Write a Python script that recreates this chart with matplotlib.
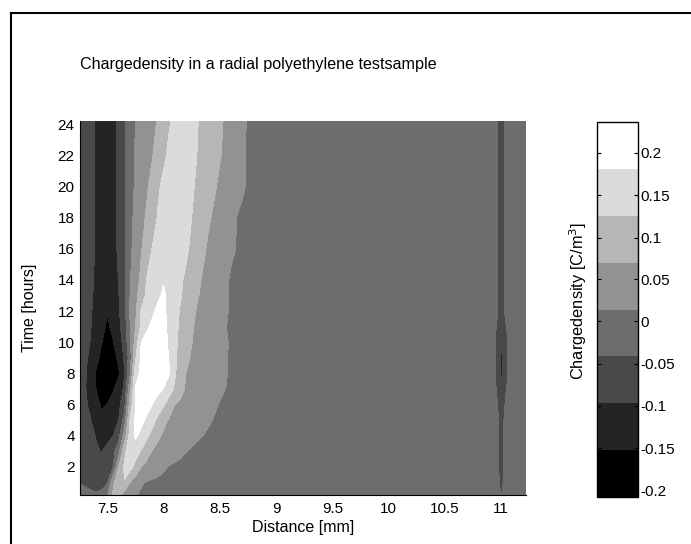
import numpy as np
import matplotlib.pyplot as plt
from matplotlib.colors import ListedColormap
from matplotlib.lines import Line2D

plt.rcParams['font.family'] = ['Liberation Sans', 'DejaVu Sans']
plt.rcParams['axes.unicode_minus'] = False

distance_mm = [7.26, 7.30, 7.35, 7.40, 7.45, 7.50, 7.55, 7.60, 7.65, 7.70, 7.75,
               7.80, 7.85, 7.90, 7.95, 8.00, 8.05, 8.10, 8.15, 8.20, 8.30, 8.40,
               8.50, 8.60, 8.70, 8.80,
               9.00, 10.90, 10.96, 11.00, 11.04, 11.10, 11.22]
time_hours = [0.2, 1, 2, 3, 4, 5, 6, 7, 8, 9, 10, 11, 12, 13, 14, 16, 18, 20, 22, 24.2]

# Charge density [C/m^3], inner electrode side (7.26 - 8.80 mm), one row per time
rho_inner = [
    [-0.03, -0.033, -0.036, -0.038, -0.035, 0.01, 0.075, 0.08, 0.05, 0.03, 0.016, 0.008, 0.003, 0, 0, 0, 0, 0, 0, 0, 0, 0, 0, 0, 0, 0],
    [-0.042, -0.045, -0.048, -0.05, -0.05, -0.045, 0.059, 0.103, 0.125, 0.07, 0.043, 0.019, 0.01, 0.006, 0.003, 0, 0, 0, 0, 0, 0, 0, 0, 0, 0, 0],
    [-0.055, -0.06, -0.066, -0.07, -0.068, -0.06, -0.045, 0.07, 0.13, 0.148, 0.109, 0.069, 0.056, 0.045, 0.033, 0.021, 0.011, 0.006, 0.003, 0.002, 0, 0, 0, 0, 0, 0],
    [-0.06, -0.068, -0.08, -0.092, -0.099, -0.078, -0.058, -0.008, 0.106, 0.17, 0.154, 0.122, 0.089, 0.067, 0.058, 0.05, 0.041, 0.033, 0.024, 0.015, 0.006, 0.003, 0.002, 0, 0, 0],
    [-0.065, -0.072, -0.086, -0.099, -0.117, -0.117, -0.098, -0.061, 0.036, 0.144, 0.19, 0.165, 0.137, 0.109, 0.077, 0.064, 0.056, 0.049, 0.041, 0.033, 0.018, 0.01, 0.006, 0.003, 0.001, 0],
    [-0.07, -0.082, -0.095, -0.115, -0.138, -0.141, -0.116, -0.097, -0.023, 0.126, 0.188, 0.197, 0.171, 0.144, 0.114, 0.08, 0.065, 0.058, 0.051, 0.044, 0.031, 0.017, 0.008, 0.004, 0.002, 0],
    [-0.07, -0.088, -0.107, -0.134, -0.16, -0.151, -0.131, -0.111, -0.066, 0.089, 0.183, 0.201, 0.2, 0.18, 0.156, 0.132, 0.1, 0.069, 0.062, 0.055, 0.04, 0.026, 0.012, 0.005, 0.002, 0],
    [-0.07, -0.092, -0.116, -0.152, -0.176, -0.186, -0.158, -0.127, -0.09, 0.051, 0.185, 0.203, 0.217, 0.215, 0.196, 0.179, 0.149, 0.118, 0.084, 0.065, 0.05, 0.035, 0.02, 0.008, 0.003, 0],
    [-0.07, -0.09, -0.121, -0.157, -0.18, -0.195, -0.185, -0.16, -0.1, 0.0, 0.16, 0.192, 0.208, 0.222, 0.215, 0.2, 0.183, 0.132, 0.098, 0.069, 0.054, 0.038, 0.023, 0.01, 0.004, 0],
    [-0.065, -0.085, -0.109, -0.138, -0.165, -0.19, -0.175, -0.139, -0.093, -0.017, 0.12, 0.188, 0.203, 0.217, 0.21, 0.194, 0.179, 0.136, 0.105, 0.077, 0.056, 0.04, 0.024, 0.01, 0.004, 0],
    [-0.06, -0.075, -0.099, -0.125, -0.15, -0.184, -0.156, -0.122, -0.081, -0.002, 0.092, 0.18, 0.195, 0.209, 0.211, 0.195, 0.175, 0.139, 0.109, 0.084, 0.058, 0.041, 0.025, 0.01, 0.004, 0],
    [-0.06, -0.072, -0.094, -0.116, -0.137, -0.16, -0.141, -0.111, -0.07, 0.007, 0.07, 0.134, 0.173, 0.191, 0.205, 0.191, 0.172, 0.142, 0.115, 0.091, 0.06, 0.042, 0.02, 0.01, 0.004, 0],
    [-0.06, -0.07, -0.093, -0.108, -0.135, -0.15, -0.135, -0.105, -0.063, 0.019, 0.058, 0.128, 0.151, 0.173, 0.193, 0.19, 0.168, 0.144, 0.121, 0.101, 0.065, 0.045, 0.026, 0.01, 0.004, 0],
    [-0.06, -0.07, -0.092, -0.104, -0.128, -0.142, -0.128, -0.1, -0.059, 0.012, 0.052, 0.098, 0.137, 0.154, 0.171, 0.19, 0.165, 0.148, 0.13, 0.111, 0.073, 0.05, 0.028, 0.01, 0.004, 0],
    [-0.06, -0.07, -0.09, -0.102, -0.125, -0.138, -0.122, -0.096, -0.057, 0.009, 0.046, 0.081, 0.128, 0.146, 0.165, 0.176, 0.16, 0.147, 0.133, 0.117, 0.079, 0.052, 0.029, 0.01, 0.004, 0],
    [-0.06, -0.07, -0.09, -0.10, -0.123, -0.135, -0.113, -0.09, -0.049, 0.0, 0.037, 0.065, 0.099, 0.128, 0.141, 0.155, 0.169, 0.167, 0.153, 0.135, 0.097, 0.062, 0.04, 0.019, 0.007, 0],
    [-0.06, -0.07, -0.088, -0.10, -0.122, -0.134, -0.112, -0.088, -0.049, -0.005, 0.029, 0.051, 0.077, 0.105, 0.13, 0.143, 0.156, 0.168, 0.155, 0.141, 0.111, 0.076, 0.048, 0.02, 0.007, 0],
    [-0.06, -0.07, -0.087, -0.10, -0.121, -0.133, -0.112, -0.088, -0.05, -0.011, 0.022, 0.041, 0.063, 0.088, 0.119, 0.136, 0.148, 0.161, 0.162, 0.145, 0.119, 0.089, 0.062, 0.041, 0.019, 0],
    [-0.06, -0.07, -0.086, -0.10, -0.121, -0.133, -0.111, -0.086, -0.05, -0.014, 0.018, 0.034, 0.051, 0.067, 0.092, 0.118, 0.1345, 0.147, 0.159, 0.149, 0.125, 0.099, 0.073, 0.047, 0.02, 0],
    [-0.06, -0.07, -0.085, -0.10, -0.12, -0.133, -0.111, -0.086, -0.048, -0.015, 0.015, 0.029, 0.044, 0.058, 0.074, 0.098, 0.122, 0.137, 0.151, 0.155, 0.128, 0.103, 0.078, 0.05, 0.021, 0],
]

# Charge density [C/m^3], outer electrode side (9.00 - 11.22 mm)
rho_outer = [
    [0, 0, -0.01, -0.045, -0.01, 0, 0],
    [0, 0, -0.02, -0.055, -0.02, 0, 0],
    [0, 0, -0.025, -0.065, -0.025, 0, 0],
    [0, 0, -0.025, -0.065, -0.025, 0, 0],
    [0, 0, -0.025, -0.065, -0.025, 0, 0],
    [0, 0, -0.025, -0.065, -0.025, 0, 0],
    [0, 0, -0.035, -0.07, -0.035, 0, 0],
    [0, 0, -0.045, -0.09, -0.045, -0.01, 0],
    [0, 0, -0.05, -0.11, -0.05, -0.02, 0],
    [0, 0, -0.05, -0.11, -0.05, -0.02, 0],
    [0, 0, -0.05, -0.10, -0.05, -0.02, 0],
    [0, 0, -0.045, -0.08, -0.045, -0.01, 0],
    [0, 0, -0.03, -0.07, -0.03, 0, 0],
    [0, 0, -0.03, -0.07, -0.03, 0, 0],
    [0, 0, -0.035, -0.07, -0.035, 0, 0],
    [0, 0, -0.035, -0.07, -0.035, 0, 0],
    [0, 0, -0.035, -0.07, -0.035, 0, 0],
    [0, 0, -0.035, -0.07, -0.035, 0, 0],
    [0, 0, -0.035, -0.07, -0.035, 0, 0],
    [0, 0, -0.035, -0.07, -0.035, 0, 0],
]

# Contour levels as shown on the colorbar
levels = [-0.208, -0.152, -0.097, -0.041, 0.014, 0.070, 0.126, 0.181, 0.237]
cbar_ticks = [-0.2, -0.15, -0.1, -0.05, 0, 0.05, 0.1, 0.15, 0.2]
cbar_labels = ['-0.2', '-0.15', '-0.1', '-0.05', '0', '0.05', '0.1', '0.15', '0.2']
x_ticks = [7.5, 8, 8.5, 9, 9.5, 10, 10.5, 11]
x_labels = ['7.5', '8', '8.5', '9', '9.5', '10', '10.5', '11']
y_ticks = [2, 4, 6, 8, 10, 12, 14, 16, 18, 20, 22, 24]

rho = np.hstack([np.array(rho_inner), np.array(rho_outer)])

fig = plt.figure(figsize=(6.91, 5.44), dpi=100)

# MATLAB gray(8) colormap
gray8 = ListedColormap([(k / 7, k / 7, k / 7) for k in range(8)])

ax = fig.add_axes([0.1162, 0.0901, 0.645, 0.6875])
cs = ax.contourf(distance_mm, time_hours, rho, levels=levels, cmap=gray8)
ax.set_xlim(7.26, 11.22)
ax.set_ylim(0.2, 24.2)
ax.set_xticks(x_ticks)
ax.set_xticklabels(x_labels)
ax.set_yticks(y_ticks)
ax.tick_params(axis='both', length=0, labelsize=11)
ax.tick_params(axis='x', pad=5)
ax.tick_params(axis='y', pad=4)
ax.spines['top'].set_visible(False)
ax.spines['right'].set_visible(False)
ax.set_xlabel('Distance [mm]', fontsize=11.5)
ax.set_ylabel('Time [hours]', fontsize=11.5)
ax.xaxis.set_label_coords(0.5, -0.066)
ax.yaxis.set_label_coords(-0.097, 0.5)

# Colorbar
cax = fig.add_axes([0.8635, 0.0864, 0.0598, 0.6893])
cbar = fig.colorbar(cs, cax=cax)
cbar.set_ticks(cbar_ticks)
cbar.set_ticklabels(cbar_labels)
cbar.outline.set_linewidth(1)
cax.tick_params(which='both', direction='in', left=True, right=True, length=3,
                labelsize=11, pad=2)
cax.minorticks_off()
cbar.set_label('Chargedensity [C/m$^3$]', fontsize=11.8)
cax.yaxis.set_label_position('left')
cax.yaxis.set_label_coords(-0.19, 0.523)

# Title
fig.text(80 / 691, 1 - 69 / 544, 'Chargedensity in a radial polyethylene testsample',
         fontsize=11.6, ha='left', va='baseline')

# Figure border (top and left visible)
fig.add_artist(Line2D([11 / 691, 1.0], [1 - 13 / 544, 1 - 13 / 544], color='black', lw=1.5))
fig.add_artist(Line2D([11 / 691, 11 / 691], [0.0, 1 - 13 / 544], color='black', lw=1.5))

fig.savefig('out.png', dpi=100)
